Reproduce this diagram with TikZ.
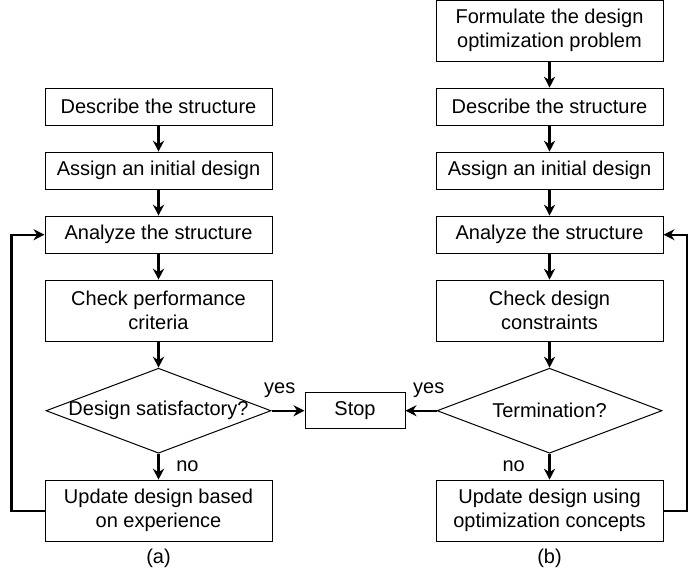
\documentclass[tikz,border=0pt]{standalone}
\usepackage{fontspec}
\setmainfont{Liberation Sans}
\usepackage{tikz}
\usetikzlibrary{shapes.geometric, arrows.meta, calc, positioning}
\tikzstyle{block} = [rectangle, line width=0.5pt, minimum width=113.5pt, minimum height=18.5pt, text centered, align=center, draw=black]
\tikzstyle{tallblock} = [block, minimum height=30.5pt]
\tikzstyle{decision} = [diamond, line width=0.5pt, minimum width=112.5pt, minimum height=42.5pt, inner sep=0pt, draw=black]
\tikzstyle{arrow} = [line width=1.1pt,->,>={Stealth[length=5.5pt,width=5.5pt]}]

\begin{document}
\begin{tikzpicture}[node distance = 13pt]
		\useasboundingbox (0,0) rectangle (344pt,-289.5pt);
		% (a) conventional design
		\node (DescribeA) [block] at (79.25pt,-53.35pt) {Describe the structure};
		\node (AssignA) [block, below = of DescribeA] {Assign an initial design};
		\node (AnalyzeA) [block, below = of AssignA] {Analyze the structure};
		\node (CheckA) [tallblock, below = of AnalyzeA] {Check performance\\criteria};
		\node (DecisionA) [decision, below = of CheckA, label=center:{Design satisfactory?}] {};
		\node (UpdateA) [tallblock, below = of DecisionA] {Update design based\\on experience};
		\node (CaptionA) [below = 0pt of UpdateA] {(a)};
		\node (Stop) [block, minimum width=50pt, minimum height=18pt, right = 16.5pt of DecisionA] {Stop};
		% (b) optimum design
		\node (DescribeB) [block, right = 81.5pt of DescribeA] {Describe the structure};
		\node (FormulateB) [tallblock, above = of DescribeB] {Formulate the design\\optimization problem};
		\node (AssignB) [block, below = of DescribeB] {Assign an initial design};
		\node (AnalyzeB) [block, below = of AssignB] {Analyze the structure};
		\node (CheckB) [tallblock, below = of AnalyzeB] {Check design\\constraints};
		\node (DecisionB) [decision, below = of CheckB, label=center:{Termination?}] {};
		\node (UpdateB) [tallblock, below = of DecisionB] {Update design using\\optimization concepts};
		\node (CaptionB) [below = 0pt of UpdateB] {(b)};
		\draw [arrow] (DescribeA) -- (AssignA);
		\draw [arrow] (AssignA) -- (AnalyzeA);
		\draw [arrow] (AnalyzeA) -- (CheckA);
		\draw [arrow] (CheckA) -- (DecisionA);
		\draw [arrow] (DecisionA) -- node[right=5pt]{no} (UpdateA);
		\draw [arrow] (DecisionA) -- node[pos=0.25, above=2.5pt]{yes} (Stop);
		\draw [arrow] (UpdateA.west) -- ++(-16.5pt,0) |- (AnalyzeA.west);
		\draw [arrow] (FormulateB) -- (DescribeB);
		\draw [arrow] (DescribeB) -- (AssignB);
		\draw [arrow] (AssignB) -- (AnalyzeB);
		\draw [arrow] (AnalyzeB) -- (CheckB);
		\draw [arrow] (CheckB) -- (DecisionB);
		\draw [arrow] (DecisionB) -- node[left=8.5pt]{no} (UpdateB);
		\draw [arrow] (DecisionB) -- node[pos=0.25, above=2.5pt]{yes} (Stop);
		\draw [arrow] (UpdateB.east) -- ++(12pt,0) |- (AnalyzeB.east);
		\end{tikzpicture}
\end{document}
